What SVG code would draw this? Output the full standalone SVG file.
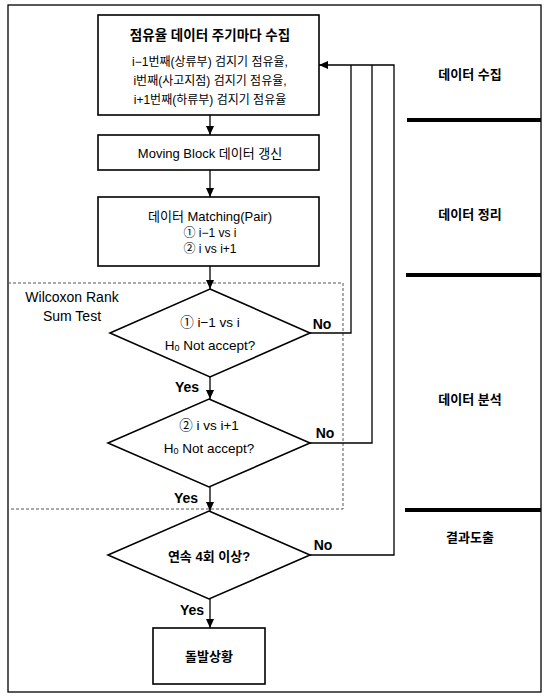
<svg xmlns="http://www.w3.org/2000/svg" width="546" height="698" viewBox="0 0 546 698">
<defs>
<marker id="ah" markerWidth="10" markerHeight="10" refX="9" refY="5" orient="auto" markerUnits="userSpaceOnUse">
<path d="M0,1 L9,5 L0,9 Z" fill="#000"/>
</marker>
<style>
.t{font-family:"Liberation Sans","Noto Sans CJK KR",sans-serif;fill:#000;text-anchor:middle;dominant-baseline:central}
.b{font-weight:bold}
.box{fill:#fff;stroke:#000;stroke-width:1.6}
.ln{fill:none;stroke:#000;stroke-width:1.3}
.div{stroke:#000;stroke-width:4}
</style>
</defs>
<rect width="546" height="698" fill="#fff"/>
<rect x="8" y="5" width="533" height="687" fill="none" stroke="#000" stroke-width="1.3"/>
<g id="dividers">
<line class="div" x1="407" y1="120" x2="541" y2="120"/>
<line class="div" x1="406" y1="275" x2="541" y2="275"/>
<line class="div" x1="405" y1="510" x2="541" y2="510"/>
</g>
<g id="stages">
<text class="t b" x="470" y="74" font-size="13">데이터 수집</text>
<text class="t b" x="470" y="214" font-size="13">데이터 정리</text>
<text class="t b" x="470" y="399" font-size="13">데이터 분석</text>
<text class="t b" x="470" y="537" font-size="13">결과도출</text>
</g>
<g id="wilcoxon">
<path d="M8,283 H343 V509 H8" fill="none" stroke="#555" stroke-width="1" stroke-dasharray="3,2"/>
<text class="t" x="72" y="297" font-size="14">Wilcoxon Rank</text>
<text class="t" x="72" y="316" font-size="14">Sum Test</text>
</g>
<g id="connectors">
<line class="ln" x1="210" y1="115" x2="210" y2="135" marker-end="url(#ah)"/>
<line class="ln" x1="210" y1="170" x2="210" y2="197" marker-end="url(#ah)"/>
<line class="ln" x1="210" y1="266" x2="210" y2="289" marker-end="url(#ah)"/>
<line class="ln" x1="210" y1="377" x2="210" y2="399" marker-end="url(#ah)"/>
<line class="ln" x1="210" y1="487" x2="210" y2="511" marker-end="url(#ah)"/>
<line class="ln" x1="210" y1="599" x2="210" y2="628" marker-end="url(#ah)"/>
<polyline class="ln" points="310,333 351,333 351,65"/>
<polyline class="ln" points="310,443 372,443 372,65"/>
<polyline class="ln" points="310,555 394,555 394,65 319,65" marker-end="url(#ah)"/>
<text class="t b" x="322" y="324" font-size="14">No</text>
<text class="t b" x="325" y="433" font-size="14">No</text>
<text class="t b" x="323" y="545" font-size="14">No</text>
<text class="t b" x="187" y="387" font-size="14">Yes</text>
<text class="t b" x="186" y="498" font-size="14">Yes</text>
<text class="t b" x="192" y="610" font-size="14">Yes</text>
</g>
<g id="collect">
<rect class="box" x="98" y="15" width="221" height="100"/>
<text class="t b" x="210" y="35" font-size="13.5">점유율 데이터 주기마다 수집</text>
<text class="t" x="210" y="62" font-size="12">i−1번째(상류부) 검지기 점유율,</text>
<text class="t" x="210" y="81" font-size="12">i번째(사고지점) 검지기 점유율,</text>
<text class="t" x="210" y="100" font-size="12">i+1번째(하류부) 검지기 점유율</text>
</g>
<g id="moving">
<rect class="box" x="98" y="135" width="221" height="35"/>
<text class="t" x="210" y="153" font-size="13">Moving Block 데이터 갱신</text>
</g>
<g id="matching">
<rect class="box" x="98" y="197" width="221" height="69"/>
<text class="t" x="210" y="216" font-size="13">데이터 Matching(Pair)</text>
<text class="t" x="210" y="233" font-size="12">① i−1 vs i</text>
<text class="t" x="210" y="249" font-size="12">② i vs i+1</text>
</g>
<g id="test1">
<polygon class="box" points="210,289 310,333 210,377 110,333"/>
<text class="t" x="210" y="322" font-size="13.5">① i−1 vs i</text>
<text class="t" x="210" y="345" font-size="13.5">H<tspan font-size="9" dy="3">0</tspan><tspan dy="-3"> Not accept?</tspan></text>
</g>
<g id="test2">
<polygon class="box" points="209,399 310,443 209,487 108,443"/>
<text class="t" x="209" y="425" font-size="13.5">② i vs i+1</text>
<text class="t" x="209" y="448" font-size="13.5">H<tspan font-size="9" dy="3">0</tspan><tspan dy="-3"> Not accept?</tspan></text>
</g>
<g id="consec">
<polygon class="box" points="209,511 310,555 209,599 108,555"/>
<text class="t b" x="209" y="556" font-size="13">연속 4회 이상?</text>
</g>
<g id="incident">
<rect class="box" x="153" y="628" width="112" height="56"/>
<text class="t b" x="209" y="656" font-size="13">돌발상황</text>
</g>
</svg>
